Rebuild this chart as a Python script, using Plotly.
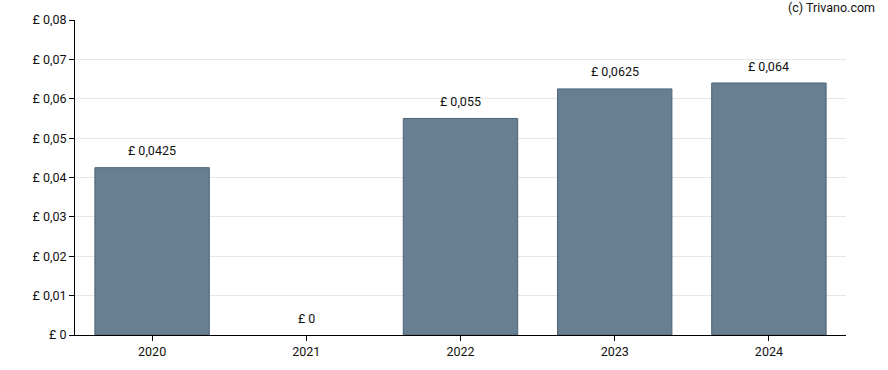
import plotly.graph_objects as go

years = ["2020", "2021", "2022", "2023", "2024"]
values = [0.0425, 0, 0.055, 0.0625, 0.064]
labels = ["£ 0,0425", "£ 0", "£ 0,055", "£ 0,0625", "£ 0,064"]
ytick_vals = [0, 0.01, 0.02, 0.03, 0.04, 0.05, 0.06, 0.07, 0.08]
ytick_text = ["£ 0", "£ 0,01", "£ 0,02", "£ 0,03", "£ 0,04", "£ 0,05", "£ 0,06", "£ 0,07", "£ 0,08"]

font = dict(family="Roboto, Arial, sans-serif", size=12.5, color="#111111")

border_widths = [1 if v > 0 else 0 for v in values]

fig = go.Figure()
fig.add_trace(go.Bar(
    x=years, y=values,
    marker=dict(color="#677f91", line=dict(color="#4d6478", width=border_widths)),
    width=0.742,
    hoverinfo="skip",
))

for i, (v, t) in enumerate(zip(values, labels)):
    fig.add_annotation(x=i, y=v, text=t, showarrow=False, yshift=17,
                       font=font, xanchor="center", yanchor="middle")

fig.add_annotation(xref="paper", yref="paper", x=1.0, y=1.0, xanchor="right", yanchor="middle",
                   text="(c) Trivano.com", showarrow=False, font=font,
                   xshift=31, yshift=13)

fig.update_layout(
    width=888, height=370,
    margin=dict(l=75, r=42, t=20, b=35, autoexpand=False),
    paper_bgcolor="white", plot_bgcolor="white",
    font=font,
    showlegend=False,
)
fig.update_xaxes(
    type="category", showline=True, linecolor="#000000", linewidth=1,
    ticks="outside", ticklen=5, tickcolor="#000000", showgrid=False,
    tickfont=font, range=[-0.5, 4.5],
)
fig.update_yaxes(
    range=[0, 0.08], tickvals=ytick_vals, ticktext=ytick_text,
    showline=True, linecolor="#000000", linewidth=1,
    ticks="outside", ticklen=5, tickcolor="#000000",
    showgrid=True, gridcolor="#e6e6e6", gridwidth=1, zeroline=False,
    tickfont=font,
)

fig.write_html(
    "out.html",
    config={"displayModeBar": False},
    post_script="document.body.style.margin='0';document.body.style.overflow='hidden';",
)
